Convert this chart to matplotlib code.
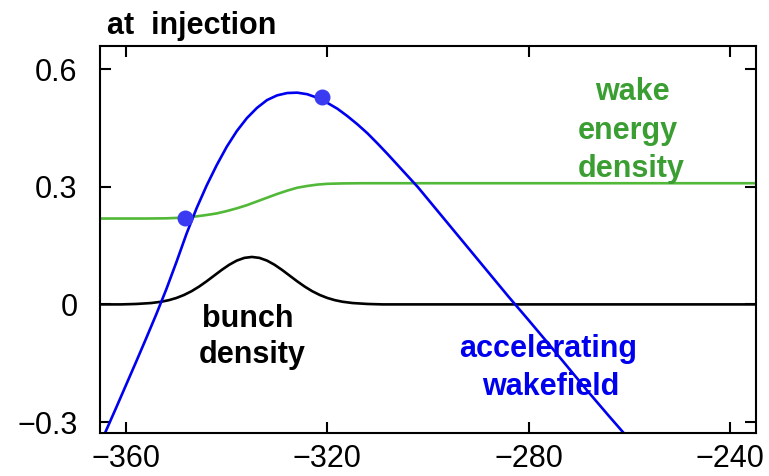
import matplotlib
matplotlib.use("Agg")
import matplotlib.pyplot as plt

plt.rcParams['font.family'] = ['Liberation Sans', 'DejaVu Sans']

# accelerating wakefield
field_x = [-364.3, -362, -360, -358, -356, -354, -352, -350, -348, -346,
           -344, -342, -340, -338, -336, -334, -332, -330, -328, -326,
           -324, -322, -320, -318, -316, -314, -312, -310, -308, -306,
           -304, -302, -300, -296, -292, -288, -284, -280, -276, -272,
           -268, -264, -260.4]
field_y = [-0.331, -0.264, -0.205, -0.146, -0.086, -0.025, 0.039, 0.108, 0.180, 0.245,
           0.303, 0.355, 0.402, 0.442, 0.475, 0.501, 0.521, 0.533, 0.539, 0.540,
           0.536, 0.527, 0.514, 0.499, 0.480, 0.459, 0.436, 0.410, 0.383, 0.355,
           0.327, 0.299, 0.268, 0.206, 0.144, 0.082, 0.020, -0.040, -0.101, -0.163,
           -0.225, -0.285, -0.338]

# wake energy density
energy_x = [-365.2, -356, -352, -349, -346, -344, -342, -340, -338, -336,
            -334, -332, -330, -328, -326, -324, -322, -320, -317, -313, -234.8]
energy_y = [0.219, 0.219, 0.2195, 0.221, 0.2245, 0.228, 0.232, 0.238, 0.245, 0.253,
            0.2625, 0.272, 0.2815, 0.290, 0.2975, 0.302, 0.3055, 0.3075, 0.3085, 0.309, 0.309]

# bunch density
bunch_x = [-365.2, -361, -358, -355, -353, -351.5, -350, -348.5, -347, -345.5,
           -344, -342.5, -341, -339.5, -338, -336.5, -335, -333.5, -332, -330.5,
           -329, -327.5, -326, -324.5, -323, -321.5, -320, -318.5, -317, -315,
           -312, -309, -234.8]
bunch_y = [0.0, 0.0, 0.0011, 0.0035, 0.0068, 0.0108, 0.0164, 0.024, 0.0336, 0.0454,
           0.0589, 0.0734, 0.0879, 0.1011, 0.1117, 0.1186, 0.121, 0.1186, 0.1117, 0.1011,
           0.0879, 0.0734, 0.0589, 0.0454, 0.0336, 0.024, 0.0164, 0.0108, 0.0068, 0.0035,
           0.0011, 0.0, 0.0]

# injection points on the wakefield
dot_x = [-348.3, -321.1]
dot_y = [0.220, 0.528]

xticks = [-360, -320, -280, -240]
yticks = [0.6, 0.3, 0.0, -0.3]
ytick_labels = ['0.6', '0.3', '0', '\u22120.3']

fig = plt.figure(figsize=(7.69, 4.76), dpi=100)
ax = fig.add_axes([0.130, 0.0903, 0.853, 0.8131])

ax.plot(bunch_x, bunch_y, color='black', lw=1.9)
ax.plot(energy_x, energy_y, color='#52b838', lw=1.9)
ax.plot(field_x, field_y, color='#0000f0', lw=1.9)
ax.plot(dot_x, dot_y, 'o', color='#3a3af2', ms=10.5, zorder=5)

ax.set_xlim(-365.2, -234.8)
ax.set_ylim(-0.328, 0.659)
ax.set_xticks(xticks)
ax.set_yticks(yticks)
ax.set_yticklabels(ytick_labels)
ax.tick_params(axis='both', direction='in', length=8, width=1.5,
               top=True, right=True)
ax.tick_params(axis='x', labelsize=22, pad=8)
ax.tick_params(axis='y', labelsize=22, pad=16)
for s in ax.spines.values():
    s.set_linewidth(1.5)

fig.text(107 / 769, 1 - 34 / 476, 'at  injection', fontsize=22,
         fontweight='bold', ha='left', va='baseline')

# curve labels, one line at a time
labels = [
    ('bunch', -335.8, -0.058, 'black'),
    ('density', -335.0, -0.150, 'black'),
    ('wake', -259.3, 0.521, '#3a9e32'),
    ('energy', -260.2, 0.4215, '#3a9e32'),
    ('density', -259.5, 0.3246, '#3a9e32'),
    ('accelerating', -276.2, -0.134, '#0000ee'),
    ('wakefield', -275.6, -0.231, '#0000ee'),
]
for txt, x, y, c in labels:
    ax.text(x, y, txt, fontsize=22, fontweight='bold', color=c,
            ha='center', va='baseline')

fig.savefig('out.png', dpi=100)
